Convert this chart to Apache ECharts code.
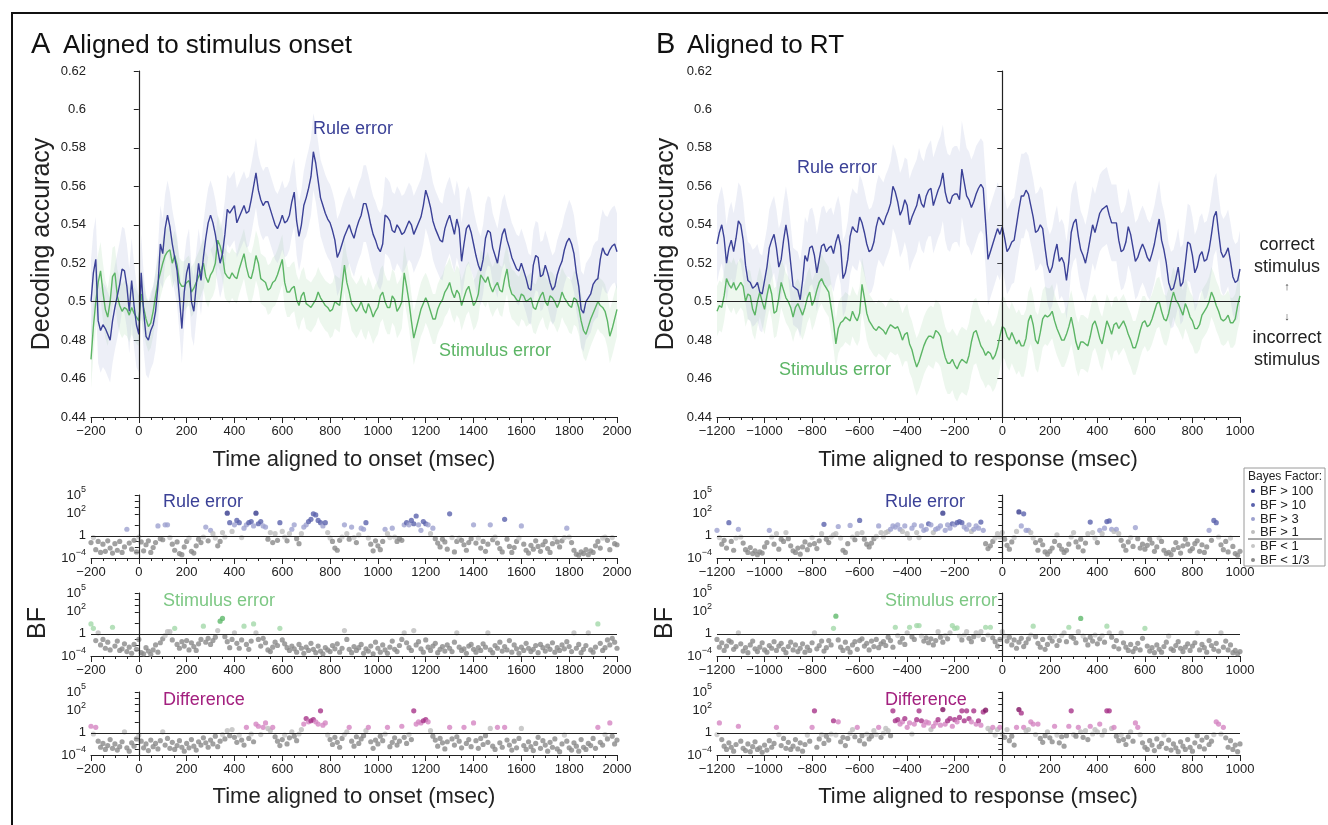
<!DOCTYPE html>
<html><head><meta charset="utf-8">
<script src="https://cdn.jsdelivr.net/npm/echarts@6/dist/echarts.min.js"></script>
<style>html,body{margin:0;padding:0;background:#fff}#c{width:1328px;height:825px}</style>
</head><body><div id="c"></div>
<script>
// ---------- time grids ----------
const T_START_A = -200, T_START_B = -1200, T_STEP = 10;
const X_TICKS_A = [-200, 2000], X_TICKS_B = [-1200, 1000];
const Y_TICKS_MAIN = [0.44, 0.62, 0.02];
// ---------- decoding accuracy, panel A (10 ms steps from -200) ----------
const ruleA = [0.500,0.515,0.522,0.490,0.485,0.488,0.486,0.483,0.480,0.490,
0.497,0.503,0.509,0.517,0.516,0.508,0.495,0.511,0.498,0.488,
0.483,0.515,0.495,0.482,0.480,0.485,0.488,0.495,0.508,0.530,
0.525,0.538,0.545,0.539,0.530,0.523,0.516,0.502,0.486,0.505,
0.515,0.520,0.500,0.495,0.508,0.520,0.511,0.523,0.533,0.541,
0.545,0.541,0.535,0.527,0.520,0.525,0.535,0.548,0.546,0.548,
0.550,0.541,0.544,0.547,0.550,0.546,0.547,0.553,0.560,0.567,
0.558,0.553,0.550,0.552,0.552,0.548,0.544,0.540,0.538,0.541,
0.545,0.541,0.542,0.545,0.552,0.557,0.542,0.534,0.540,0.550,
0.554,0.559,0.565,0.578,0.572,0.563,0.554,0.550,0.546,0.543,
0.541,0.537,0.532,0.523,0.526,0.530,0.534,0.537,0.540,0.536,
0.533,0.538,0.542,0.545,0.551,0.551,0.546,0.540,0.535,0.532,
0.528,0.526,0.530,0.545,0.544,0.542,0.537,0.536,0.540,0.538,
0.535,0.536,0.539,0.542,0.540,0.535,0.538,0.541,0.544,0.550,
0.558,0.554,0.549,0.542,0.538,0.535,0.532,0.531,0.538,0.542,
0.545,0.540,0.535,0.543,0.538,0.521,0.530,0.538,0.540,0.536,
0.530,0.524,0.519,0.516,0.522,0.533,0.537,0.536,0.528,0.524,
0.520,0.528,0.535,0.538,0.532,0.528,0.523,0.520,0.517,0.516,
0.520,0.516,0.512,0.507,0.506,0.519,0.524,0.523,0.513,0.514,
0.519,0.515,0.510,0.506,0.508,0.514,0.518,0.521,0.527,0.531,
0.533,0.530,0.525,0.515,0.508,0.496,0.494,0.500,0.502,0.504,
0.509,0.511,0.512,0.522,0.528,0.525,0.524,0.527,0.529,0.530,
0.526];
const stimA = [0.470,0.487,0.500,0.510,0.516,0.505,0.496,0.492,0.500,0.513,
0.515,0.503,0.498,0.495,0.497,0.496,0.493,0.497,0.494,0.492,
0.490,0.504,0.497,0.491,0.487,0.489,0.495,0.503,0.510,0.515,
0.520,0.524,0.526,0.527,0.520,0.524,0.519,0.510,0.508,0.508,
0.510,0.511,0.505,0.507,0.510,0.513,0.516,0.520,0.513,0.510,
0.514,0.516,0.520,0.532,0.529,0.524,0.515,0.513,0.512,0.515,
0.513,0.512,0.517,0.521,0.525,0.518,0.513,0.512,0.517,0.524,
0.520,0.512,0.511,0.510,0.506,0.507,0.510,0.511,0.514,0.518,
0.522,0.510,0.505,0.505,0.507,0.508,0.501,0.498,0.503,0.505,
0.499,0.498,0.497,0.499,0.501,0.505,0.502,0.500,0.498,0.497,
0.495,0.496,0.500,0.499,0.498,0.508,0.519,0.510,0.505,0.499,
0.497,0.495,0.497,0.500,0.496,0.494,0.499,0.496,0.492,0.495,
0.497,0.503,0.505,0.500,0.497,0.497,0.503,0.501,0.495,0.497,
0.500,0.515,0.508,0.500,0.490,0.481,0.486,0.491,0.496,0.499,
0.502,0.499,0.495,0.491,0.491,0.496,0.499,0.501,0.505,0.507,
0.510,0.505,0.502,0.506,0.504,0.498,0.502,0.506,0.508,0.503,
0.498,0.500,0.504,0.514,0.512,0.510,0.513,0.508,0.505,0.508,
0.510,0.506,0.505,0.512,0.517,0.508,0.504,0.503,0.501,0.500,
0.504,0.503,0.500,0.501,0.502,0.497,0.496,0.500,0.503,0.505,
0.500,0.498,0.503,0.502,0.500,0.497,0.500,0.505,0.502,0.500,
0.498,0.497,0.502,0.501,0.497,0.490,0.485,0.483,0.487,0.491,
0.494,0.497,0.500,0.498,0.497,0.495,0.490,0.482,0.486,0.491,
0.496];
// ---------- decoding accuracy, panel B (10 ms steps from -1200) ----------
const ruleB = [0.530,0.536,0.540,0.533,0.520,0.528,0.532,0.526,0.533,0.542,
0.540,0.532,0.519,0.511,0.510,0.507,0.508,0.510,0.505,0.504,
0.511,0.518,0.528,0.532,0.535,0.528,0.518,0.522,0.532,0.540,
0.532,0.520,0.508,0.507,0.506,0.501,0.511,0.524,0.521,0.528,
0.529,0.524,0.515,0.522,0.529,0.530,0.526,0.528,0.529,0.525,
0.531,0.535,0.529,0.512,0.515,0.522,0.534,0.539,0.537,0.536,
0.544,0.541,0.536,0.530,0.526,0.527,0.531,0.539,0.544,0.542,
0.540,0.544,0.547,0.551,0.560,0.557,0.552,0.545,0.548,0.553,
0.550,0.540,0.544,0.547,0.550,0.556,0.551,0.549,0.555,0.558,
0.559,0.550,0.554,0.558,0.561,0.567,0.557,0.552,0.551,0.555,
0.556,0.556,0.553,0.569,0.562,0.555,0.553,0.549,0.552,0.556,
0.559,0.561,0.559,0.541,0.522,0.526,0.530,0.534,0.538,0.535,
0.539,0.533,0.526,0.528,0.531,0.532,0.540,0.548,0.555,0.555,
0.558,0.556,0.550,0.544,0.536,0.537,0.540,0.538,0.528,0.519,
0.515,0.518,0.525,0.530,0.521,0.523,0.520,0.511,0.521,0.536,
0.541,0.543,0.534,0.527,0.524,0.520,0.526,0.533,0.540,0.536,
0.541,0.546,0.548,0.549,0.550,0.545,0.541,0.541,0.541,0.532,
0.526,0.527,0.531,0.539,0.535,0.528,0.521,0.523,0.527,0.530,
0.527,0.523,0.521,0.525,0.530,0.537,0.543,0.532,0.527,0.520,
0.510,0.506,0.507,0.512,0.518,0.508,0.510,0.520,0.531,0.530,
0.524,0.515,0.518,0.524,0.526,0.521,0.522,0.527,0.535,0.544,
0.547,0.536,0.526,0.523,0.525,0.528,0.521,0.513,0.510,0.511,
0.517];
const stimB = [0.495,0.498,0.497,0.503,0.512,0.509,0.507,0.510,0.506,0.508,
0.510,0.508,0.500,0.504,0.503,0.496,0.493,0.500,0.505,0.500,
0.496,0.503,0.509,0.504,0.494,0.495,0.502,0.510,0.506,0.502,
0.500,0.497,0.492,0.497,0.499,0.496,0.493,0.497,0.502,0.505,
0.498,0.501,0.506,0.510,0.512,0.509,0.507,0.505,0.497,0.489,
0.478,0.486,0.489,0.490,0.492,0.491,0.490,0.495,0.492,0.490,
0.494,0.509,0.502,0.494,0.490,0.488,0.486,0.485,0.487,0.486,
0.485,0.483,0.486,0.488,0.487,0.486,0.487,0.484,0.480,0.483,
0.484,0.478,0.475,0.470,0.466,0.469,0.473,0.477,0.480,0.482,
0.482,0.481,0.485,0.484,0.482,0.476,0.471,0.468,0.468,0.470,
0.467,0.465,0.468,0.470,0.469,0.468,0.472,0.479,0.484,0.485,
0.481,0.477,0.475,0.472,0.474,0.473,0.470,0.472,0.476,0.482,
0.487,0.486,0.482,0.480,0.484,0.481,0.478,0.480,0.477,0.477,
0.481,0.490,0.493,0.488,0.480,0.478,0.484,0.491,0.493,0.492,
0.493,0.495,0.490,0.486,0.483,0.480,0.480,0.483,0.487,0.492,
0.486,0.479,0.475,0.479,0.479,0.478,0.477,0.482,0.488,0.490,
0.486,0.481,0.478,0.484,0.490,0.487,0.483,0.488,0.489,0.486,
0.488,0.490,0.487,0.483,0.480,0.476,0.476,0.480,0.485,0.489,
0.490,0.487,0.488,0.491,0.495,0.499,0.500,0.495,0.491,0.490,
0.494,0.500,0.505,0.501,0.499,0.496,0.493,0.499,0.496,0.492,
0.490,0.486,0.486,0.488,0.493,0.495,0.497,0.500,0.505,0.502,
0.498,0.495,0.491,0.490,0.491,0.493,0.489,0.489,0.491,0.498,
0.503];
// ---------- shaded band half-widths, one per 100 ms bin ----------
const ruleHwA = [0.022,0.022,0.020,0.018,0.018,0.018,0.018,0.018,0.018,0.020,0.020,0.020,0.020,0.020,0.020,0.020,0.018,0.018,0.018,0.018,0.020,0.020,0.020];
const stimHwA = [0.015,0.014,0.013,0.013,0.013,0.013,0.013,0.013,0.013,0.013,0.014,0.014,0.014,0.014,0.013,0.013,0.013,0.013,0.013,0.013,0.014,0.014,0.014];
const ruleHwB = [0.020,0.020,0.020,0.020,0.020,0.020,0.022,0.022,0.024,0.025,0.025,0.024,0.022,0.020,0.020,0.020,0.020,0.020,0.020,0.020,0.020,0.020,0.020];
const stimHwB = [0.013,0.013,0.013,0.013,0.013,0.013,0.014,0.014,0.015,0.016,0.017,0.017,0.016,0.015,0.014,0.014,0.014,0.014,0.013,0.013,0.013,0.013,0.013];
// ---------- log10 Bayes factors (10 ms steps) ----------
const ruleBF_A = [-1.2,-0.3,-2.5,-1.0,-3.0,-1.5,-2.8,-0.9,-2.2,-3.1,
-1.4,-2.6,-1.0,-3.0,-2.0,0.6,-1.3,-2.4,-0.8,-2.9,
-0.2,-1.1,-2.7,-1.6,-0.9,-3.0,-2.1,-1.2,0.9,-0.5,
-0.7,1.0,1.0,-0.3,-1.5,-2.6,-1.1,-3.2,-3.4,-2.0,
-1.0,-0.4,-2.8,-3.1,-1.8,-0.6,-1.2,-0.2,0.8,-0.9,
0.5,0.2,-0.4,-1.8,-1.0,0.3,-0.2,2.1,1.2,0.4,
1.0,1.4,1.2,-0.3,0.7,1.0,1.2,1.3,0.9,2.1,
1.1,1.3,0.9,0.8,-0.6,0.3,-1.2,0.2,-0.8,1.2,
0.4,-0.2,-0.9,0.2,0.6,1.0,-0.5,-1.4,0.2,0.8,
1.0,1.3,1.5,2.0,1.9,1.4,1.2,0.9,1.2,0.3,
-0.4,-1.0,-2.2,-2.6,-0.8,-0.2,1.0,0.2,-0.6,0.8,
-0.3,-1.2,0.1,0.7,0.6,1.2,-0.4,-1.5,-2.7,-0.9,
-1.8,-2.5,-1.0,0.6,0.2,-0.3,0.7,-0.2,-1.0,-0.5,
-0.8,1.0,1.2,1.0,1.4,1.1,1.8,1.0,0.5,1.3,
1.1,1.0,0.2,0.7,-0.5,-1.3,-2.0,-0.6,-1.1,-2.4,
2.0,-0.3,-2.9,-1.0,-0.4,-0.8,-1.6,-2.6,-1.2,-0.5,
1.0,-1.3,-0.4,-2.2,-1.0,-2.8,-1.5,1.0,-0.7,-0.2,
-1.3,-2.3,-2.9,1.5,-0.6,-1.9,-3.0,-2.1,-1.0,-0.4,
0.9,-1.5,-2.6,-3.1,-1.7,-2.4,-0.9,-1.9,-2.8,-1.6,
-1.0,-2.3,-3.0,-1.4,-0.4,-1.1,-2.0,-0.9,-0.3,0.7,
-0.2,-1.2,-2.6,-3.3,-3.5,-2.9,-3.2,-2.5,-3.4,-2.7,
-3.0,-1.8,-1.0,-2.2,-0.4,-0.2,-0.8,-2.5,-0.3,-1.4,
-1.6];
const stimBF_A = [0.9,0.5,-1.2,0.1,-2.0,-1.0,-2.6,-1.5,-2.9,0.6,
-2.2,-1.3,-3.0,-2.7,-1.8,-3.2,-2.4,-3.5,-1.9,-2.8,
-1.0,-3.4,-3.6,-2.5,-3.1,-3.7,-2.9,-2.0,-3.3,-1.6,
-0.9,-0.3,0.2,0.2,-1.1,0.5,-1.9,-2.6,-1.4,-2.2,
-1.2,-2.9,-1.6,-2.3,-3.0,-1.8,-1.0,0.7,-1.5,-0.8,
-1.9,-1.2,-0.6,0.3,1.15,1.4,-0.5,-1.4,-2.5,-1.0,
0.1,-1.7,-2.6,-1.1,0.7,-1.9,-2.8,-1.3,0.9,0.1,
-1.0,-2.2,-0.8,-1.6,-2.9,-3.2,-2.4,-1.5,-2.1,0.5,
-1.1,-1.8,-2.5,-3.0,-2.2,-2.7,-3.3,-1.9,-2.6,-3.5,
-2.4,-3.0,-1.7,-2.8,-3.4,-2.2,-3.1,-3.6,-2.5,-2.9,
-3.2,-2.1,-2.7,-1.8,-3.3,-2.6,0.3,-1.0,-2.8,-3.4,
-2.3,-3.0,-2.5,-1.9,-3.5,-2.7,-3.1,-2.2,-3.6,-1.5,
-2.6,-3.3,-2.0,-2.9,-3.5,-2.4,-1.3,-2.8,-3.2,-2.1,
-1.0,0.1,-1.6,-2.5,-3.0,0.3,-2.0,-1.4,-2.7,-3.3,
-1.1,-2.4,-3.0,-2.2,-1.7,-3.4,-2.8,-2.3,-3.1,-2.0,
-2.6,-3.2,-1.5,0.1,-2.4,-3.0,-2.7,-3.5,-2.2,-1.9,
-2.8,-3.3,-2.5,-3.0,-1.8,-2.4,0.1,-2.9,-3.4,-2.1,
-2.6,-1.5,-3.1,-2.3,-2.9,-1.2,-3.3,-2.0,-2.7,-3.5,
-2.4,-3.0,-1.7,-2.6,-3.2,-2.8,-2.1,-3.4,-1.9,-2.5,
-3.1,-2.2,-2.8,-1.6,-3.3,-2.5,-3.0,-2.0,-2.7,-1.4,
-2.3,-3.2,0.1,-2.6,-1.9,-3.4,-2.8,-2.1,0.1,-2.9,
-3.3,-2.4,0.9,-1.7,-3.0,-2.5,-1.1,-2.0,-0.8,-1.5,
-2.6];
const diffBF_A = [0.6,-0.2,0.5,-1.5,-2.6,-1.9,-3.0,-2.3,-1.2,-2.8,
-2.0,-3.1,-2.5,-1.6,0.1,-2.7,-3.3,-1.8,-2.4,-1.1,
-0.4,-1.5,-2.7,-2.0,-3.2,-1.3,-2.5,-1.9,-2.9,-1.4,
0.1,-2.2,-1.0,-2.8,-1.7,-3.0,-2.3,-1.4,-2.6,-3.3,
-1.9,-2.7,-1.2,-2.4,-3.1,-1.6,-2.2,-0.9,-1.8,-2.6,
-1.3,-2.0,-0.6,-2.5,-1.5,-0.3,-1.1,0.2,-0.5,0.3,
-0.8,-1.7,-0.4,-1.3,-2.2,0.5,-1.0,-0.2,-1.6,0.8,
0.6,-0.3,0.5,0.9,0.4,0.2,0.5,-0.7,-1.5,-2.3,
-1.2,-0.4,-2.0,-0.9,0.1,-0.6,-1.4,-0.2,0.3,0.8,
1.3,1.0,1.1,1.2,1.0,0.8,2.0,0.7,0.9,-0.4,
-1.2,-2.1,-0.8,-1.7,-2.6,-1.0,-0.3,0.1,0.5,-1.5,
-2.4,-0.7,-1.9,-1.1,-0.5,0.2,0.5,-1.6,-2.8,-1.3,
-2.0,-0.6,-1.4,-0.2,0.5,-2.5,-1.7,-0.9,-2.2,-1.5,
0.6,-0.8,-1.9,-0.3,-1.2,2.0,0.8,1.0,0.9,1.1,
1.2,1.0,0.2,-0.6,-1.3,-2.4,-1.0,-1.8,-2.9,-1.6,
0.5,-1.1,-2.2,-0.7,-1.5,-2.7,0.5,-1.9,-1.2,-2.5,
0.9,-1.4,-2.8,-1.0,-2.1,-0.5,-1.7,0.4,-2.4,-3.0,
0.5,-1.8,-2.6,0.5,-1.3,-2.2,-3.1,-1.5,-2.7,-1.0,
0.4,-2.3,-3.0,-1.6,-2.5,-3.2,-1.9,-0.8,-2.8,-1.4,
-2.2,-3.3,-1.7,-2.6,-1.1,-2.9,-3.4,-2.0,-0.4,-1.5,
-2.7,-3.1,-1.8,-2.4,-3.3,-1.2,-2.6,-3.0,-1.9,-2.3,
-1.0,-2.8,0.5,-1.7,-2.2,-0.3,-1.1,0.9,-0.6,-2.0,
-1.3];
const ruleBF_B = [0.5,-0.3,-1.5,-0.8,-2.2,1.2,-1.0,-2.6,-0.4,0.6,
-0.2,-1.3,-2.5,-3.0,-2.1,-3.2,-2.7,-3.4,-2.9,-3.1,
-2.0,-1.2,0.5,-0.2,-1.5,0.2,-2.4,-0.6,-1.0,0.3,
-0.5,-1.8,-2.7,-3.0,-2.2,-3.3,-2.0,-1.1,-2.5,-1.6,
-0.3,-1.4,-2.3,-0.9,0.2,1.05,-0.6,-1.2,-0.2,0.1,
0.2,0.85,-0.4,-2.6,-3.0,-1.4,0.95,-0.2,-0.7,0.2,
1.4,0.3,-0.6,-1.5,-2.0,-1.3,-0.5,-0.1,0.9,0.3,
-0.2,0.3,0.4,0.6,0.9,0.8,1.0,0.6,0.4,0.9,
0.2,-0.4,0.7,1.0,0.3,-0.3,0.9,0.5,0.6,1.1,
1.0,0.3,0.6,0.7,0.9,2.1,0.5,1.0,0.7,1.1,
1.0,1.2,1.3,1.2,0.8,0.6,1.0,0.4,0.6,0.9,
0.7,1.25,0.5,-1.4,-2.3,-1.8,-1.0,-0.4,0.2,-0.2,
0.3,-0.6,-1.7,-2.4,-1.1,-0.3,0.4,2.3,0.9,2.0,
0.5,0.5,0.3,-0.4,-1.2,-2.6,-0.8,-1.6,-2.9,-3.3,
-2.8,-2.2,-1.0,0.1,-1.7,-2.4,-3.0,-2.6,-1.5,-0.2,
0.3,-1.1,-2.0,-0.6,-2.7,-1.3,0.2,1.25,0.3,-0.4,
-1.2,0.5,0.2,0.7,1.3,1.35,0.6,0.4,0.6,0.2,
-0.8,-1.8,-2.6,-1.1,-0.3,-1.9,0.75,-0.5,-2.2,-1.5,
-2.4,-1.7,-0.6,-1.3,-2.8,-2.0,-0.4,-1.0,-2.6,-3.2,
-3.0,-3.4,-2.5,-1.2,-2.1,-3.1,-1.8,-0.6,-1.5,-2.7,
-2.3,-1.4,-0.9,-2.8,-1.6,-3.0,-2.0,0.5,-0.8,1.4,
1.2,-0.2,-1.6,-2.5,-1.0,-2.9,-0.4,-1.9,-3.2,-3.5,
-2.8];
const stimBF_B = [-1.0,-2.4,-1.6,-3.0,-2.2,-1.2,-1.5,-2.8,-2.3,0.1,
-1.8,-3.1,-2.5,-3.4,-2.0,-1.3,-2.7,-3.2,-2.4,-1.6,
-2.9,-3.3,-2.1,-2.6,-1.4,-3.0,-2.2,-1.7,-2.8,-3.4,
-2.3,-1.5,-2.9,-2.0,-3.2,-2.6,-1.8,-3.3,-2.4,-3.0,
-1.6,0.1,-2.7,-2.1,-1.3,-3.1,-2.5,-1.2,-2.0,0.5,
1.6,-1.1,-2.4,-3.0,-1.5,-2.6,-3.3,-2.0,-1.4,-2.8,
-1.2,-0.9,-2.2,-1.7,-2.9,-1.3,-2.3,-1.0,-2.5,-1.8,
-1.4,-2.1,-0.6,-1.2,-2.4,0.6,-0.3,-1.5,-0.8,-1.9,
0.1,0.6,-0.5,-1.0,0.75,0.75,-0.4,-1.3,-0.7,-1.6,
-0.9,-2.0,-1.2,0.2,-0.6,-1.5,-0.3,-0.9,0.1,0.75,
0.5,0.55,-0.4,-1.1,-0.2,0.2,-0.8,-1.4,-0.5,0.1,
-0.3,0.2,-1.0,0.6,-0.2,0.6,-0.7,-1.4,-2.2,-1.0,
0.2,-0.4,-1.3,-0.6,-2.0,-1.1,-2.6,-1.5,-0.8,-2.3,
-1.6,-0.9,-0.2,0.7,-0.5,-1.7,-2.4,-1.0,-2.8,-1.9,
-0.7,-1.3,-0.4,-2.1,-1.2,-0.3,0.1,-1.4,0.6,-0.5,
-0.8,-1.6,0.2,1.4,-0.4,-1.1,-2.0,-0.6,-1.3,-0.2,
-1.8,-0.9,-0.3,-1.5,0.7,0.1,-0.6,-2.3,-1.2,-2.7,
0.1,-1.6,-2.4,-3.0,-1.9,-3.2,-2.6,-1.7,-2.9,-0.8,
0.5,-2.2,-3.1,-2.5,-3.4,-2.0,-2.8,-3.3,-2.3,-1.5,
-0.4,-2.7,-3.0,-2.1,-1.4,-2.6,-3.2,-2.4,-1.8,-3.0,
-2.2,-1.6,0.1,-2.9,-1.9,-2.5,-3.3,-1.2,-2.1,-2.8,
-1.7,-3.1,0.1,-2.4,-1.3,-2.9,-2.0,-3.4,-3.0,-3.6,
-3.2];
const diffBF_B = [-0.3,0.9,-1.2,-2.4,-3.0,-1.8,-2.6,-3.3,-2.1,0.6,
-1.5,-2.8,-3.2,-2.0,-3.4,-2.5,-1.6,-3.0,-2.7,-3.5,
-2.2,-3.1,-1.4,-2.6,-1.9,0.5,-0.3,-2.3,-1.0,-2.8,
-1.7,-3.0,-2.4,-1.2,-2.9,-1.8,-3.3,-2.1,-0.4,-1.5,
0.5,2.0,-2.6,-1.1,-0.3,-1.9,-0.6,-1.3,-0.2,1.1,
-0.4,1.0,-1.6,-0.8,-2.3,-1.0,-0.1,0.3,-0.7,0.5,
-1.4,-0.5,-2.0,-0.2,-1.1,-0.6,0.2,-0.3,0.5,-0.8,
-0.1,0.4,0.2,-0.5,2.0,1.1,1.2,0.8,1.0,1.3,
0.5,0.9,-0.2,0.8,1.2,2.0,1.1,0.7,1.0,0.9,
0.3,0.6,0.9,1.2,0.7,2.2,0.8,1.1,1.3,0.6,
1.2,1.0,1.4,2.0,1.1,2.0,1.3,1.0,2.0,0.8,
1.1,0.7,1.9,2.1,0.4,0.2,0.5,-0.4,0.3,0.5,
-0.2,-0.8,0.3,-1.4,-0.6,-2.2,0.5,2.2,1.8,0.5,
0.2,0.3,1.0,0.8,-0.3,0.8,-1.0,-1.7,-0.5,0.1,
-0.9,-1.6,0.6,-0.4,-1.8,-0.7,-2.4,-0.5,0.6,2.0,
-0.3,-0.6,0.5,0.1,-0.8,0.2,-1.2,0.6,-0.2,0.3,
0.1,0.8,-0.4,0.2,2.0,2.0,0.4,0.5,-0.6,-1.4,
-0.4,-1.2,-2.1,-0.7,0.1,-1.5,0.9,0.5,-0.3,-1.8,
-2.6,-3.0,-1.4,-2.2,-3.2,-1.1,-2.5,-1.9,-0.4,-2.8,
-1.3,-3.1,-2.0,-2.7,-3.4,-1.6,-2.4,-3.0,-1.2,-2.6,
-3.3,-1.8,-0.5,-2.5,-1.3,-2.9,-0.8,-2.1,-1.5,-0.3,
1.0,0.8,-0.2,0.5,-0.9,-2.6,-1.4,-3.0,-2.2,-3.4,
-2.0];
// BF axis tick labels (log10 BF) and legend texts
const BF_LABEL_LOGS = [-4, 0, 2, 5];
const BF_MINOR_LOGS = [-3, -2, -1, 1, 3, 4];
const LEGEND_TEXTS = ['BF > 100', 'BF > 10', 'BF > 3', 'BF > 1', 'BF < 1', 'BF < 1/3'];

// ---------- styling ----------
const FF = '"Liberation Sans", Arial, Helvetica, sans-serif';
const C_RULE = '#3b4197', C_STIM = '#5cb565', C_DIFF = '#a3207f';
const BAND_RULE = 'rgba(175,182,220,0.22)', BAND_STIM = 'rgba(165,216,170,0.20)';
const PAL = {
  rule: ['#343a8c', '#5b63ad', '#9da1cf'],
  stim: ['#3b9b4b', '#5fb96b', '#a3d8a9'],
  diff: ['#7e1060', '#a83589', '#d585c2']
};
const G_HI = '#bdbdbd', G_LO = '#c6c6c6', G_DK = '#8a8a8a';
const U_MAX = 2.85;
function toU(L) { // the figure's non-uniform BF scale
  if (L <= 0) return Math.max(0, 1 + L / 4);
  if (L <= 2) return 1 + L / 2;
  return 2 + (L - 2) * (U_MAX - 2) / 3;
}
function bfColor(L, p) {
  if (L > 2) return p[0]; if (L > 1) return p[1]; if (L > Math.log10(3)) return p[2];
  if (L > 0) return G_HI; if (L > -Math.log10(3)) return G_LO; return G_DK;
}
const times = (arr, t0) => arr.map((_, i) => t0 + i * T_STEP);
const tA = times(ruleA, T_START_A), tB = times(ruleB, T_START_B);

const GA = { left: 91, width: 526 }, GB = { left: 717, width: 523 };
const grids = [
  { ...GA, top: 71, height: 346 }, { ...GB, top: 71, height: 346 },
  { ...GA, top: 495, height: 63 }, { ...GA, top: 593, height: 63 }, { ...GA, top: 692, height: 63 },
  { ...GB, top: 495, height: 63 }, { ...GB, top: 593, height: 63 }, { ...GB, top: 692, height: 63 }
];
const AX = '#222';
function xAx(gi, r) {
  return { type: 'value', gridIndex: gi, min: r[0], max: r[1], interval: 200,
    axisLine: { show: true, lineStyle: { color: AX, width: 1 } },
    axisTick: { show: true, length: 6, lineStyle: { color: AX } },
    minorTick: { show: true, splitNumber: 4, length: 3, lineStyle: { color: AX } },
    splitLine: { show: false }, minorSplitLine: { show: false },
    axisLabel: { fontSize: 13, color: AX, fontFamily: FF, margin: 8,
      formatter: v => String(v).replace('-', '\u2212') } };
}
function yMain(gi) {
  return { type: 'value', gridIndex: gi, min: Y_TICKS_MAIN[0], max: Y_TICKS_MAIN[1], interval: Y_TICKS_MAIN[2],
    axisLine: { show: true, lineStyle: { color: AX, width: 1 } },
    axisTick: { show: true, length: 5, lineStyle: { color: AX } },
    splitLine: { show: false },
    axisLabel: { fontSize: 13, color: AX, fontFamily: FF, margin: 5,
      formatter: v => String(Math.round(v * 100) / 100) } };
}
function yBF(gi) {
  const labU = BF_LABEL_LOGS.map(toU);
  return { type: 'value', gridIndex: gi, min: 0, max: U_MAX,
    axisLine: { show: true, lineStyle: { color: AX, width: 1 } },
    axisTick: { show: true, length: 4, lineStyle: { color: AX },
      customValues: labU.concat(BF_MINOR_LOGS.map(toU)) },
    splitLine: { show: false },
    axisLabel: { customValues: labU, color: AX, fontFamily: FF, fontSize: 13, margin: 5,
      formatter: v => {
        const k = labU.findIndex(u => Math.abs(u - v) < 1e-6);
        const L = BF_LABEL_LOGS[k];
        if (L === 0) return '{b|1}';
        return '{b|10}{s|' + String(L).replace('-', '\u2212') + '}';
      },
      rich: { b: { fontSize: 13, lineHeight: 20, fontFamily: FF, color: AX, verticalAlign: 'middle' },
              s: { fontSize: 9, lineHeight: 10, fontFamily: FF, color: AX, verticalAlign: 'top' } } } };
}
const xAxis = [xAx(0, X_TICKS_A), xAx(1, X_TICKS_B), xAx(2, X_TICKS_A), xAx(3, X_TICKS_A), xAx(4, X_TICKS_A),
  xAx(5, X_TICKS_B), xAx(6, X_TICKS_B), xAx(7, X_TICKS_B)];
const yAxis = [yMain(0), yMain(1), yBF(2), yBF(3), yBF(4), yBF(5), yBF(6), yBF(7)];

const refLines = (y) => ({ silent: true, symbol: ['none', 'none'], animation: false, label: { show: false },
  lineStyle: { color: '#222', width: 1.2, type: 'solid' }, data: [{ yAxis: y }, { xAxis: 0 }] });

const series = [];
// shaded error band: one polygon placed through the grid's own coordinate system
function band(idx, t, vals, hw, color) {
  const bin = i => hw[Math.min(hw.length - 1, Math.floor(i / 10))];
  const lo = vals.map((v, i) => v - bin(i)), hi = vals.map((v, i) => v + bin(i));
  series.push({ type: 'custom', xAxisIndex: idx, yAxisIndex: idx, z: 1, silent: true, clip: true,
    data: t.map((x, i) => [x, lo[i], hi[i]]), encode: { x: 0, y: [1, 2] },
    renderItem: (params, api) => {
      if (params.dataIndex !== 0) return null;
      const pts = [];
      for (let i = 0; i < t.length; i++) pts.push(api.coord([t[i], hi[i]]));
      for (let i = t.length - 1; i >= 0; i--) pts.push(api.coord([t[i], lo[i]]));
      return { type: 'polygon', shape: { points: pts }, style: { fill: color } };
    } });
}
function line(idx, t, vals, color, withRef) {
  const s = { type: 'line', xAxisIndex: idx, yAxisIndex: idx, symbol: 'none', z: 3,
    lineStyle: { color: color, width: 1.4 }, data: vals.map((v, i) => [t[i], v]) };
  if (withRef) s.markLine = refLines(0.5);
  series.push(s);
}
band(0, tA, stimA, stimHwA, BAND_STIM);
band(0, tA, ruleA, ruleHwA, BAND_RULE);
line(0, tA, stimA, C_STIM, false);
line(0, tA, ruleA, C_RULE, true);
band(1, tB, stimB, stimHwB, BAND_STIM);
band(1, tB, ruleB, ruleHwB, BAND_RULE);
line(1, tB, stimB, C_STIM, false);
line(1, tB, ruleB, C_RULE, true);

function bfSeries(idx, t, logs, pal) {
  series.push({ type: 'scatter', xAxisIndex: idx, yAxisIndex: idx, symbolSize: 5.2, z: 2,
    data: logs.map((L, i) => ({ value: [t[i], toU(L)], itemStyle: { color: bfColor(L, pal) } })),
    markLine: refLines(1) });
}
bfSeries(2, tA, ruleBF_A, PAL.rule);
bfSeries(3, tA, stimBF_A, PAL.stim);
bfSeries(4, tA, diffBF_A, PAL.diff);
bfSeries(5, tB, ruleBF_B, PAL.rule);
bfSeries(6, tB, stimBF_B, PAL.stim);
bfSeries(7, tB, diffBF_B, PAL.diff);

// ---------- text & decorations ----------
function txt(text, x, y, size, color, align, rot) {
  return { type: 'text', x: x, y: y, rotation: rot || 0, z: 50,
    style: { text: text, fontSize: size, fontFamily: FF, fill: color || '#222',
      textAlign: align || 'left', textVerticalAlign: 'middle' } };
}
const R90 = Math.PI / 2;
const graphic = [
  { type: 'rect', z: 60, shape: { x: 12, y: 13, width: 1340, height: 850 },
    style: { fill: 'transparent', stroke: '#111', lineWidth: 2 } },
  txt('A', 31, 45, 29, '#111'), txt('Aligned to stimulus onset', 63, 46, 26, '#111'),
  txt('B', 656, 45, 29, '#111'), txt('Aligned to RT', 687, 46, 26, '#111'),
  txt('Decoding accuracy', 42, 244, 25, '#222', 'center', R90),
  txt('Decoding accuracy', 666, 244, 25, '#222', 'center', R90),
  txt('Time aligned to onset (msec)', 354, 460, 22, '#222', 'center'),
  txt('Time aligned to response (msec)', 978, 460, 22, '#222', 'center'),
  txt('Time aligned to onset (msec)', 354, 797, 22, '#222', 'center'),
  txt('Time aligned to response (msec)', 978, 797, 22, '#222', 'center'),
  txt('BF', 38, 623, 25, '#222', 'center', R90),
  txt('BF', 665, 623, 25, '#222', 'center', R90),
  txt('Rule error', 313, 129, 18, C_RULE), txt('Stimulus error', 439, 351, 18, C_STIM),
  txt('Rule error', 797, 168, 18, C_RULE), txt('Stimulus error', 779, 370, 18, C_STIM),
  txt('Rule error', 163, 502, 18, C_RULE), txt('Stimulus error', 163, 601, 18, '#7cc783'),
  txt('Difference', 163, 700, 18, C_DIFF),
  txt('Rule error', 885, 502, 18, C_RULE), txt('Stimulus error', 885, 601, 18, '#7cc783'),
  txt('Difference', 885, 700, 18, C_DIFF),
  txt('correct', 1287, 245, 18, '#222', 'center'), txt('stimulus', 1287, 267, 18, '#222', 'center'),
  txt('\u2191', 1287, 287, 11, '#444', 'center'), txt('\u2193', 1287, 317, 11, '#444', 'center'),
  txt('incorrect', 1287, 338, 18, '#222', 'center'), txt('stimulus', 1287, 360, 18, '#222', 'center'),
  { type: 'rect', z: 40, shape: { x: 1244, y: 468, width: 81, height: 98 },
    style: { fill: '#fff', stroke: '#9a9a9a', lineWidth: 1 } },
  txt('Bayes Factor:', 1248, 477, 12, '#222'),
  { type: 'line', z: 45, shape: { x1: 1248, y1: 539, x2: 1322, y2: 539 }, style: { stroke: '#555', lineWidth: 1 } }
];
const legY = [491, 505, 519, 532, 546, 560];
const legC = [PAL.rule[0], PAL.rule[1], PAL.rule[2], G_HI, G_LO, G_DK];
LEGEND_TEXTS.forEach((s, i) => {
  graphic.push({ type: 'circle', z: 45, shape: { cx: 1253, cy: legY[i], r: 2 }, style: { fill: legC[i] } });
  graphic.push(txt(s, 1260, legY[i], 13, '#222'));
});

const chart = echarts.init(document.getElementById('c'), null, { renderer: 'canvas' });
chart.setOption({ animation: false, backgroundColor: '#fff', grid: grids, xAxis, yAxis, series, graphic });
</script></body></html>
